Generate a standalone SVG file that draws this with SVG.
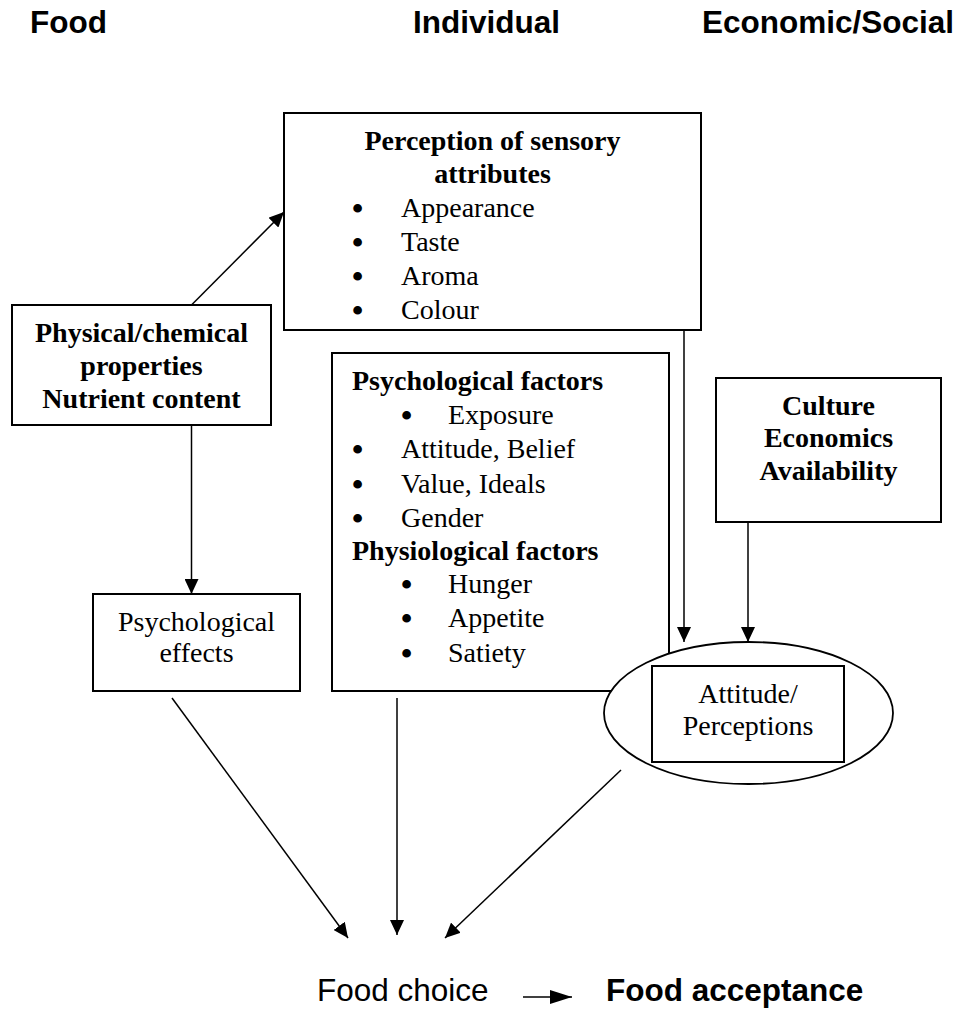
<svg xmlns="http://www.w3.org/2000/svg" width="960" height="1009" viewBox="0 0 960 1009">
<style>
.box{fill:#fff;stroke:#000;stroke-width:2}
.con{stroke:#000;stroke-width:1.5;fill:none}
.h{font-family:"Liberation Sans",Arial,sans-serif;font-weight:bold;font-size:31.5px;fill:#000}
.s{font-family:"Liberation Sans",Arial,sans-serif;font-size:31.5px;fill:#000}
.t{font-family:"Liberation Serif","Times New Roman",serif;font-size:28px;fill:#000}
.b{font-weight:bold}
.c{text-anchor:middle}
.bl{font-size:32px;font-weight:bold}
</style>
<defs>
<marker id="ah" markerUnits="userSpaceOnUse" markerWidth="15" markerHeight="14" refX="15" refY="7" orient="auto" viewBox="0 0 15 14">
<path d="M0,0 L15,7 L0,14 z" fill="#000"/>
</marker>
<marker id="ahs" markerUnits="userSpaceOnUse" markerWidth="22" markerHeight="14" refX="22" refY="7" orient="auto" viewBox="0 0 22 14">
<path d="M0,0 L22,7 L0,14 z" fill="#000"/>
</marker>
</defs>
<g id="headings">
<text class="h" x="30" y="33">Food</text>
<text class="h" x="413" y="33">Individual</text>
<text class="h" x="702" y="33">Economic/Social</text>
</g>
<g id="perception">
<rect class="box" x="284" y="113" width="417" height="217"/>
<text class="t b c" x="492.5" y="150">Perception of sensory</text>
<text class="t b c" x="492.5" y="183">attributes</text>
<text class="t" y="217"><tspan class="bl" x="352" dy="2">•</tspan><tspan x="401" dy="-2">Appearance</tspan></text>
<text class="t" y="251"><tspan class="bl" x="352" dy="2">•</tspan><tspan x="401" dy="-2">Taste</tspan></text>
<text class="t" y="285"><tspan class="bl" x="352" dy="2">•</tspan><tspan x="401" dy="-2">Aroma</tspan></text>
<text class="t" y="319"><tspan class="bl" x="352" dy="2">•</tspan><tspan x="401" dy="-2">Colour</tspan></text>
</g>
<g id="physical">
<rect class="box" x="12" y="305" width="259" height="120"/>
<text class="t b c" x="141.5" y="342">Physical/chemical</text>
<text class="t b c" x="141.5" y="375">properties</text>
<text class="t b c" x="141.5" y="408">Nutrient content</text>
</g>
<g id="psych-effects">
<rect class="box" x="93" y="594" width="207" height="97"/>
<text class="t c" x="196.5" y="631">Psychological</text>
<text class="t c" x="196.5" y="662">effects</text>
</g>
<g id="factors">
<rect class="box" x="332" y="353" width="337" height="338"/>
<text class="t b" x="352" y="390">Psychological factors</text>
<text class="t" y="424"><tspan class="bl" x="401" dy="2">•</tspan><tspan x="448" dy="-2">Exposure</tspan></text>
<text class="t" y="458"><tspan class="bl" x="352" dy="2">•</tspan><tspan x="401" dy="-2">Attitude, Belief</tspan></text>
<text class="t" y="493"><tspan class="bl" x="352" dy="2">•</tspan><tspan x="401" dy="-2">Value, Ideals</tspan></text>
<text class="t" y="527"><tspan class="bl" x="352" dy="2">•</tspan><tspan x="401" dy="-2">Gender</tspan></text>
<text class="t b" x="352" y="560">Physiological factors</text>
<text class="t" y="593"><tspan class="bl" x="401" dy="2">•</tspan><tspan x="448" dy="-2">Hunger</tspan></text>
<text class="t" y="627"><tspan class="bl" x="401" dy="2">•</tspan><tspan x="448" dy="-2">Appetite</tspan></text>
<text class="t" y="662"><tspan class="bl" x="401" dy="2">•</tspan><tspan x="448" dy="-2">Satiety</tspan></text>
</g>
<g id="culture">
<rect class="box" x="716" y="378" width="225" height="144"/>
<text class="t b c" x="828.5" y="415">Culture</text>
<text class="t b c" x="828.5" y="447">Economics</text>
<text class="t b c" x="828.5" y="480">Availability</text>
</g>
<g id="attitude">
<ellipse cx="748.5" cy="713" rx="144.5" ry="71" fill="#fff" stroke="#000" stroke-width="1.8"/>
<rect class="box" x="652" y="666" width="192" height="96"/>
<text class="t c" x="748" y="703">Attitude/</text>
<text class="t c" x="748" y="735">Perceptions</text>
</g>
<g id="outcome">
<text class="s" x="317" y="1001">Food choice</text>
<text class="h" x="606" y="1001">Food acceptance</text>
</g>
<g id="connectors">
<line class="con" x1="191.5" y1="305" x2="284" y2="212" marker-end="url(#ah)"/>
<line class="con" x1="191.5" y1="425" x2="191.5" y2="594" marker-end="url(#ah)"/>
<line class="con" x1="684" y1="330" x2="684" y2="642" marker-end="url(#ah)"/>
<line class="con" x1="748" y1="522" x2="748" y2="642" marker-end="url(#ah)"/>
<line class="con" x1="172" y1="698" x2="348" y2="938" marker-end="url(#ah)"/>
<line class="con" x1="397" y1="698" x2="397" y2="935" marker-end="url(#ah)"/>
<line class="con" x1="621" y1="770" x2="445" y2="938" marker-end="url(#ah)"/>
<line class="con" x1="523" y1="997" x2="572" y2="997" marker-end="url(#ahs)"/>
</g>
</svg>
